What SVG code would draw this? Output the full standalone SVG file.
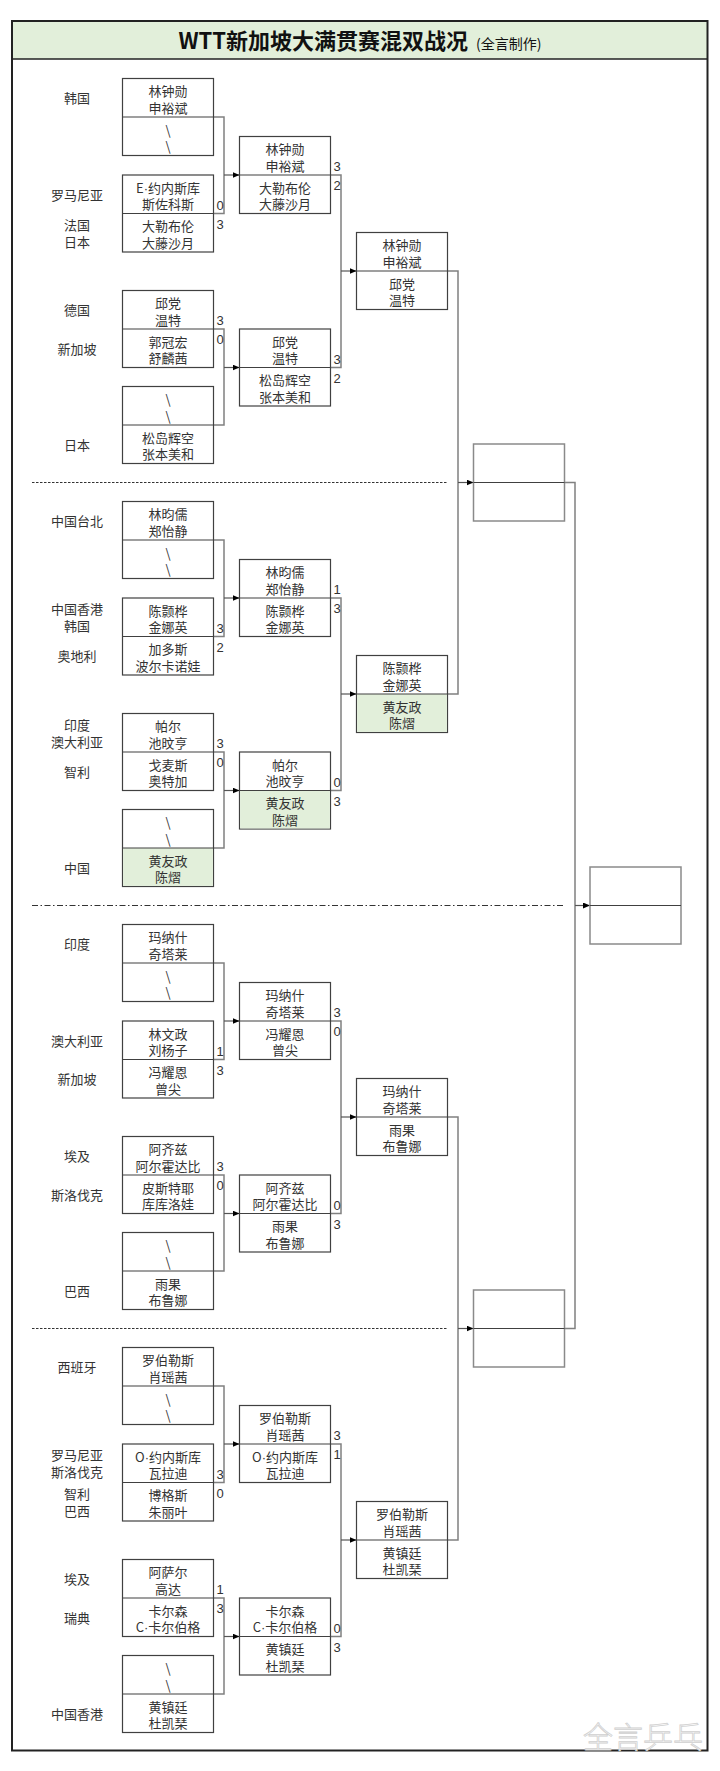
<svg xmlns="http://www.w3.org/2000/svg" width="720" height="1771" viewBox="0 0 720 1771">
<style>
.bx{fill:#fff;stroke:#404040;stroke-width:1.2}
.bg{fill:#fff;stroke:#8a8a8a;stroke-width:1.5}
.gr{fill:#E2EFDA;stroke:none}
.dv{stroke:#404040;stroke-width:1.2}
.nm{font-family:"Noto Sans CJK SC","Noto Sans",sans-serif;font-size:13px;fill:#333;text-anchor:middle}
.dt{font-family:"Liberation Sans",Arial,sans-serif}
.sc{font-family:"Liberation Sans",Arial,sans-serif;font-size:13px;fill:#333}
.cn{fill:none;stroke:#808080;stroke-width:1.5}
.ar{fill:none;stroke:#555;stroke-width:1.2}
.sep1{stroke:#333;stroke-width:1;stroke-dasharray:2.5,1.5}
.sep2{stroke:#333;stroke-width:1;stroke-dasharray:6,2.5,1.5,2.5}
</style>
<defs>
<marker id="arr" markerWidth="8" markerHeight="8" refX="7" refY="3" orient="auto" markerUnits="userSpaceOnUse"><path d="M0,0 L7,3 L0,6 z" fill="#000"/></marker>
</defs>
<rect width="720" height="1771" fill="#fff"/>
<g id="frame">
<rect x="12" y="21" width="695.5" height="38" fill="#E2EFDA"/>
<rect x="12" y="21" width="695.5" height="1729.5" fill="none" stroke="#222" stroke-width="2"/>
<line x1="12" y1="59" x2="707.5" y2="59" stroke="#222" stroke-width="1.5"/>
<text x="360" y="48.5" text-anchor="middle" font-family="Noto Sans CJK SC,sans-serif" fill="#111"><tspan font-size="22" font-weight="bold">WTT新加坡大满贯赛混双战况</tspan><tspan font-size="14" dx="8">(全言制作)</tspan></text>
</g>
<g id="separators">
<line class="sep1" x1="32" y1="482.5" x2="448" y2="482.5"/>
<line class="sep2" x1="32" y1="905.5" x2="564" y2="905.5"/>
<line class="sep1" x1="32" y1="1328.5" x2="448" y2="1328.5"/>
</g>
<g id="countries" class="nm">
<text x="77" y="103.1">韩国</text>
<text x="77" y="199.6">罗马尼亚</text>
<text x="77" y="229.5">法国</text>
<text x="77" y="246.7">日本</text>
<text x="77" y="315.1">德国</text>
<text x="77" y="353.6">新加坡</text>
<text x="77" y="449.6">日本</text>
<text x="77" y="526.1">中国台北</text>
<text x="77" y="614">中国香港</text>
<text x="77" y="631.2">韩国</text>
<text x="77" y="661.1">奥地利</text>
<text x="77" y="729.5">印度</text>
<text x="77" y="746.7">澳大利亚</text>
<text x="77" y="776.6">智利</text>
<text x="77" y="872.6">中国</text>
<text x="77" y="949.1">印度</text>
<text x="77" y="1045.6">澳大利亚</text>
<text x="77" y="1084.1">新加坡</text>
<text x="77" y="1161.1">埃及</text>
<text x="77" y="1199.6">斯洛伐克</text>
<text x="77" y="1295.6">巴西</text>
<text x="77" y="1372.1">西班牙</text>
<text x="77" y="1460">罗马尼亚</text>
<text x="77" y="1477.2">斯洛伐克</text>
<text x="77" y="1498.5">智利</text>
<text x="77" y="1515.7">巴西</text>
<text x="77" y="1584.1">埃及</text>
<text x="77" y="1622.6">瑞典</text>
<text x="77" y="1718.6">中国香港</text>
</g>
<g id="connectors">
<path class="cn" d="M213.5,117 H224 V213.5 H213.5 M213.5,329 H224 V425 H213.5 M330.5,175 H341 V367.5 H330.5"/>
<path class="cn" d="M213.5,540 H224 V636.5 H213.5 M213.5,752 H224 V848 H213.5 M330.5,598 H341 V790.5 H330.5"/>
<path class="cn" d="M213.5,963 H224 V1059.5 H213.5 M213.5,1175 H224 V1271 H213.5 M330.5,1021 H341 V1213.5 H330.5"/>
<path class="cn" d="M213.5,1386 H224 V1482.5 H213.5 M213.5,1598 H224 V1694 H213.5 M330.5,1444 H341 V1636.5 H330.5"/>
<path class="cn" d="M447.5,271 H458 V694 H447.5 M447.5,1117 H458 V1540 H447.5 M564.5,482.5 H575 V1328.5 H564.5"/>
<g class="ar" marker-end="url(#arr)">
<path d="M224,175 H239.5"/><path d="M224,367.5 H239.5"/><path d="M341,271 H356.5"/>
<path d="M224,598 H239.5"/><path d="M224,790.5 H239.5"/><path d="M341,694 H356.5"/>
<path d="M224,1021 H239.5"/><path d="M224,1213.5 H239.5"/><path d="M341,1117 H356.5"/>
<path d="M224,1444 H239.5"/><path d="M224,1636.5 H239.5"/><path d="M341,1540 H356.5"/>
<path d="M458,482.5 H473.5"/><path d="M458,1328.5 H473.5"/><path d="M575,905.5 H590"/>
</g>
</g>
<!-- Quarter 1 -->
<g id="m-a1"><rect class="bx" x="122.5" y="78.5" width="91" height="77"/><line class="dv" x1="122.5" y1="117" x2="213.5" y2="117"/>
<text class="nm" x="168" y="96">林钟勋</text><text class="nm" x="168" y="112.5">申裕斌</text><text class="nm" x="168" y="134.5">\</text><text class="nm" x="168" y="151">\</text></g>
<g id="m-a2"><rect class="bx" x="122.5" y="175" width="91" height="77"/><line class="dv" x1="122.5" y1="213.5" x2="213.5" y2="213.5"/>
<text class="nm" x="168" y="192.5">E<tspan class="dt">·</tspan>约内斯库</text><text class="nm" x="168" y="209">斯佐科斯</text><text class="nm" x="168" y="231">大勒布伦</text><text class="nm" x="168" y="247.5">大藤沙月</text>
<text class="sc" x="216.5" y="209.5">0</text><text class="sc" x="216.5" y="228.7">3</text></g>
<g id="m-a3"><rect class="bx" x="122.5" y="290.5" width="91" height="77"/><line class="dv" x1="122.5" y1="329" x2="213.5" y2="329"/>
<text class="nm" x="168" y="308">邱党</text><text class="nm" x="168" y="324.5">温特</text><text class="nm" x="168" y="346.5">郭冠宏</text><text class="nm" x="168" y="363">舒麟茜</text>
<text class="sc" x="216.5" y="325">3</text><text class="sc" x="216.5" y="344.2">0</text></g>
<g id="m-a4"><rect class="bx" x="122.5" y="386.5" width="91" height="77"/><line class="dv" x1="122.5" y1="425" x2="213.5" y2="425"/>
<text class="nm" x="168" y="404">\</text><text class="nm" x="168" y="420.5">\</text><text class="nm" x="168" y="442.5">松岛辉空</text><text class="nm" x="168" y="459">张本美和</text></g>
<g id="m-b1"><rect class="bx" x="239.5" y="136.5" width="91" height="77"/><line class="dv" x1="239.5" y1="175" x2="330.5" y2="175"/>
<text class="nm" x="285" y="154">林钟勋</text><text class="nm" x="285" y="170.5">申裕斌</text><text class="nm" x="285" y="192.5">大勒布伦</text><text class="nm" x="285" y="209">大藤沙月</text>
<text class="sc" x="333.5" y="171">3</text><text class="sc" x="333.5" y="190.2">2</text></g>
<g id="m-b2"><rect class="bx" x="239.5" y="329" width="91" height="77"/><line class="dv" x1="239.5" y1="367.5" x2="330.5" y2="367.5"/>
<text class="nm" x="285" y="346.5">邱党</text><text class="nm" x="285" y="363">温特</text><text class="nm" x="285" y="385">松岛辉空</text><text class="nm" x="285" y="401.5">张本美和</text>
<text class="sc" x="333.5" y="363.5">3</text><text class="sc" x="333.5" y="382.7">2</text></g>
<g id="m-c1"><rect class="bx" x="356.5" y="232.5" width="91" height="77"/><line class="dv" x1="356.5" y1="271" x2="447.5" y2="271"/>
<text class="nm" x="402" y="250">林钟勋</text><text class="nm" x="402" y="266.5">申裕斌</text><text class="nm" x="402" y="288.5">邱党</text><text class="nm" x="402" y="305">温特</text></g>
<!-- Quarter 2 -->
<g id="m-a5"><rect class="bx" x="122.5" y="501.5" width="91" height="77"/><line class="dv" x1="122.5" y1="540" x2="213.5" y2="540"/>
<text class="nm" x="168" y="519">林昀儒</text><text class="nm" x="168" y="535.5">郑怡静</text><text class="nm" x="168" y="557.5">\</text><text class="nm" x="168" y="574">\</text></g>
<g id="m-a6"><rect class="bx" x="122.5" y="598" width="91" height="77"/><line class="dv" x1="122.5" y1="636.5" x2="213.5" y2="636.5"/>
<text class="nm" x="168" y="615.5">陈颢桦</text><text class="nm" x="168" y="632">金娜英</text><text class="nm" x="168" y="654">加多斯</text><text class="nm" x="168" y="670.5">波尔卡诺娃</text>
<text class="sc" x="216.5" y="632.5">3</text><text class="sc" x="216.5" y="651.7">2</text></g>
<g id="m-a7"><rect class="bx" x="122.5" y="713.5" width="91" height="77"/><line class="dv" x1="122.5" y1="752" x2="213.5" y2="752"/>
<text class="nm" x="168" y="731">帕尔</text><text class="nm" x="168" y="747.5">池旼亨</text><text class="nm" x="168" y="769.5">戈麦斯</text><text class="nm" x="168" y="786">奥特加</text>
<text class="sc" x="216.5" y="748">3</text><text class="sc" x="216.5" y="767.2">0</text></g>
<g id="m-a8"><rect class="bx" x="122.5" y="809.5" width="91" height="77"/><rect class="gr" x="123.1" y="848" width="89.8" height="37.9"/><line class="dv" x1="122.5" y1="848" x2="213.5" y2="848"/>
<text class="nm" x="168" y="827">\</text><text class="nm" x="168" y="843.5">\</text><text class="nm" x="168" y="865.5">黄友政</text><text class="nm" x="168" y="882">陈熠</text></g>
<g id="m-b3"><rect class="bx" x="239.5" y="559.5" width="91" height="77"/><line class="dv" x1="239.5" y1="598" x2="330.5" y2="598"/>
<text class="nm" x="285" y="577">林昀儒</text><text class="nm" x="285" y="593.5">郑怡静</text><text class="nm" x="285" y="615.5">陈颢桦</text><text class="nm" x="285" y="632">金娜英</text>
<text class="sc" x="333.5" y="594">1</text><text class="sc" x="333.5" y="613.2">3</text></g>
<g id="m-b4"><rect class="bx" x="239.5" y="752" width="91" height="77"/><rect class="gr" x="240.1" y="790.5" width="89.8" height="37.9"/><line class="dv" x1="239.5" y1="790.5" x2="330.5" y2="790.5"/>
<text class="nm" x="285" y="769.5">帕尔</text><text class="nm" x="285" y="786">池旼亨</text><text class="nm" x="285" y="808">黄友政</text><text class="nm" x="285" y="824.5">陈熠</text>
<text class="sc" x="333.5" y="786.5">0</text><text class="sc" x="333.5" y="805.7">3</text></g>
<g id="m-c2"><rect class="bx" x="356.5" y="655.5" width="91" height="77"/><rect class="gr" x="357.1" y="694" width="89.8" height="37.9"/><line class="dv" x1="356.5" y1="694" x2="447.5" y2="694"/>
<text class="nm" x="402" y="673">陈颢桦</text><text class="nm" x="402" y="689.5">金娜英</text><text class="nm" x="402" y="711.5">黄友政</text><text class="nm" x="402" y="728">陈熠</text></g>
<!-- Quarter 3 -->
<g id="m-a9"><rect class="bx" x="122.5" y="924.5" width="91" height="77"/><line class="dv" x1="122.5" y1="963" x2="213.5" y2="963"/>
<text class="nm" x="168" y="942">玛纳什</text><text class="nm" x="168" y="958.5">奇塔莱</text><text class="nm" x="168" y="980.5">\</text><text class="nm" x="168" y="997">\</text></g>
<g id="m-a10"><rect class="bx" x="122.5" y="1021" width="91" height="77"/><line class="dv" x1="122.5" y1="1059.5" x2="213.5" y2="1059.5"/>
<text class="nm" x="168" y="1038.5">林文政</text><text class="nm" x="168" y="1055">刘杨子</text><text class="nm" x="168" y="1077">冯耀恩</text><text class="nm" x="168" y="1093.5">曾尖</text>
<text class="sc" x="216.5" y="1055.5">1</text><text class="sc" x="216.5" y="1074.7">3</text></g>
<g id="m-a11"><rect class="bx" x="122.5" y="1136.5" width="91" height="77"/><line class="dv" x1="122.5" y1="1175" x2="213.5" y2="1175"/>
<text class="nm" x="168" y="1154">阿齐兹</text><text class="nm" x="168" y="1170.5">阿尔霍达比</text><text class="nm" x="168" y="1192.5">皮斯特耶</text><text class="nm" x="168" y="1209">库库洛娃</text>
<text class="sc" x="216.5" y="1171">3</text><text class="sc" x="216.5" y="1190.2">0</text></g>
<g id="m-a12"><rect class="bx" x="122.5" y="1232.5" width="91" height="77"/><line class="dv" x1="122.5" y1="1271" x2="213.5" y2="1271"/>
<text class="nm" x="168" y="1250">\</text><text class="nm" x="168" y="1266.5">\</text><text class="nm" x="168" y="1288.5">雨果</text><text class="nm" x="168" y="1305">布鲁娜</text></g>
<g id="m-b5"><rect class="bx" x="239.5" y="982.5" width="91" height="77"/><line class="dv" x1="239.5" y1="1021" x2="330.5" y2="1021"/>
<text class="nm" x="285" y="1000">玛纳什</text><text class="nm" x="285" y="1016.5">奇塔莱</text><text class="nm" x="285" y="1038.5">冯耀恩</text><text class="nm" x="285" y="1055">曾尖</text>
<text class="sc" x="333.5" y="1017">3</text><text class="sc" x="333.5" y="1036.2">0</text></g>
<g id="m-b6"><rect class="bx" x="239.5" y="1175" width="91" height="77"/><line class="dv" x1="239.5" y1="1213.5" x2="330.5" y2="1213.5"/>
<text class="nm" x="285" y="1192.5">阿齐兹</text><text class="nm" x="285" y="1209">阿尔霍达比</text><text class="nm" x="285" y="1231">雨果</text><text class="nm" x="285" y="1247.5">布鲁娜</text>
<text class="sc" x="333.5" y="1209.5">0</text><text class="sc" x="333.5" y="1228.7">3</text></g>
<g id="m-c3"><rect class="bx" x="356.5" y="1078.5" width="91" height="77"/><line class="dv" x1="356.5" y1="1117" x2="447.5" y2="1117"/>
<text class="nm" x="402" y="1096">玛纳什</text><text class="nm" x="402" y="1112.5">奇塔莱</text><text class="nm" x="402" y="1134.5">雨果</text><text class="nm" x="402" y="1151">布鲁娜</text></g>
<!-- Quarter 4 -->
<g id="m-a13"><rect class="bx" x="122.5" y="1347.5" width="91" height="77"/><line class="dv" x1="122.5" y1="1386" x2="213.5" y2="1386"/>
<text class="nm" x="168" y="1365">罗伯勒斯</text><text class="nm" x="168" y="1381.5">肖瑶茜</text><text class="nm" x="168" y="1403.5">\</text><text class="nm" x="168" y="1420">\</text></g>
<g id="m-a14"><rect class="bx" x="122.5" y="1444" width="91" height="77"/><line class="dv" x1="122.5" y1="1482.5" x2="213.5" y2="1482.5"/>
<text class="nm" x="168" y="1461.5">O<tspan class="dt">·</tspan>约内斯库</text><text class="nm" x="168" y="1478">瓦拉迪</text><text class="nm" x="168" y="1500">博格斯</text><text class="nm" x="168" y="1516.5">朱丽叶</text>
<text class="sc" x="216.5" y="1478.5">3</text><text class="sc" x="216.5" y="1497.7">0</text></g>
<g id="m-a15"><rect class="bx" x="122.5" y="1559.5" width="91" height="77"/><line class="dv" x1="122.5" y1="1598" x2="213.5" y2="1598"/>
<text class="nm" x="168" y="1577">阿萨尔</text><text class="nm" x="168" y="1593.5">高达</text><text class="nm" x="168" y="1615.5">卡尔森</text><text class="nm" x="168" y="1632">C<tspan class="dt">·</tspan>卡尔伯格</text>
<text class="sc" x="216.5" y="1594">1</text><text class="sc" x="216.5" y="1613.2">3</text></g>
<g id="m-a16"><rect class="bx" x="122.5" y="1655.5" width="91" height="77"/><line class="dv" x1="122.5" y1="1694" x2="213.5" y2="1694"/>
<text class="nm" x="168" y="1673">\</text><text class="nm" x="168" y="1689.5">\</text><text class="nm" x="168" y="1711.5">黄镇廷</text><text class="nm" x="168" y="1728">杜凯琹</text></g>
<g id="m-b7"><rect class="bx" x="239.5" y="1405.5" width="91" height="77"/><line class="dv" x1="239.5" y1="1444" x2="330.5" y2="1444"/>
<text class="nm" x="285" y="1423">罗伯勒斯</text><text class="nm" x="285" y="1439.5">肖瑶茜</text><text class="nm" x="285" y="1461.5">O<tspan class="dt">·</tspan>约内斯库</text><text class="nm" x="285" y="1478">瓦拉迪</text>
<text class="sc" x="333.5" y="1440">3</text><text class="sc" x="333.5" y="1459.2">1</text></g>
<g id="m-b8"><rect class="bx" x="239.5" y="1598" width="91" height="77"/><line class="dv" x1="239.5" y1="1636.5" x2="330.5" y2="1636.5"/>
<text class="nm" x="285" y="1615.5">卡尔森</text><text class="nm" x="285" y="1632">C<tspan class="dt">·</tspan>卡尔伯格</text><text class="nm" x="285" y="1654">黄镇廷</text><text class="nm" x="285" y="1670.5">杜凯琹</text>
<text class="sc" x="333.5" y="1632.5">0</text><text class="sc" x="333.5" y="1651.7">3</text></g>
<g id="m-c4"><rect class="bx" x="356.5" y="1501.5" width="91" height="77"/><line class="dv" x1="356.5" y1="1540" x2="447.5" y2="1540"/>
<text class="nm" x="402" y="1519">罗伯勒斯</text><text class="nm" x="402" y="1535.5">肖瑶茜</text><text class="nm" x="402" y="1557.5">黄镇廷</text><text class="nm" x="402" y="1574">杜凯琹</text></g>
<!-- Semifinals and final -->
<g id="m-d1"><rect class="bg" x="473.5" y="444" width="91" height="77"/><line class="dv" x1="473.5" y1="482.5" x2="564.5" y2="482.5"/></g>
<g id="m-d2"><rect class="bg" x="473.5" y="1290" width="91" height="77"/><line class="dv" x1="473.5" y1="1328.5" x2="564.5" y2="1328.5"/></g>
<g id="m-final"><rect class="bg" x="590" y="867" width="91" height="77"/><line class="dv" x1="590" y1="905.5" x2="681" y2="905.5"/></g>
<g id="watermark"><text x="583" y="1748" font-family="Noto Sans CJK SC,sans-serif" font-size="30" font-weight="300" fill="#fff" stroke="#cfcfcf" stroke-width="0.8">全言乒乓</text></g>
</svg>
